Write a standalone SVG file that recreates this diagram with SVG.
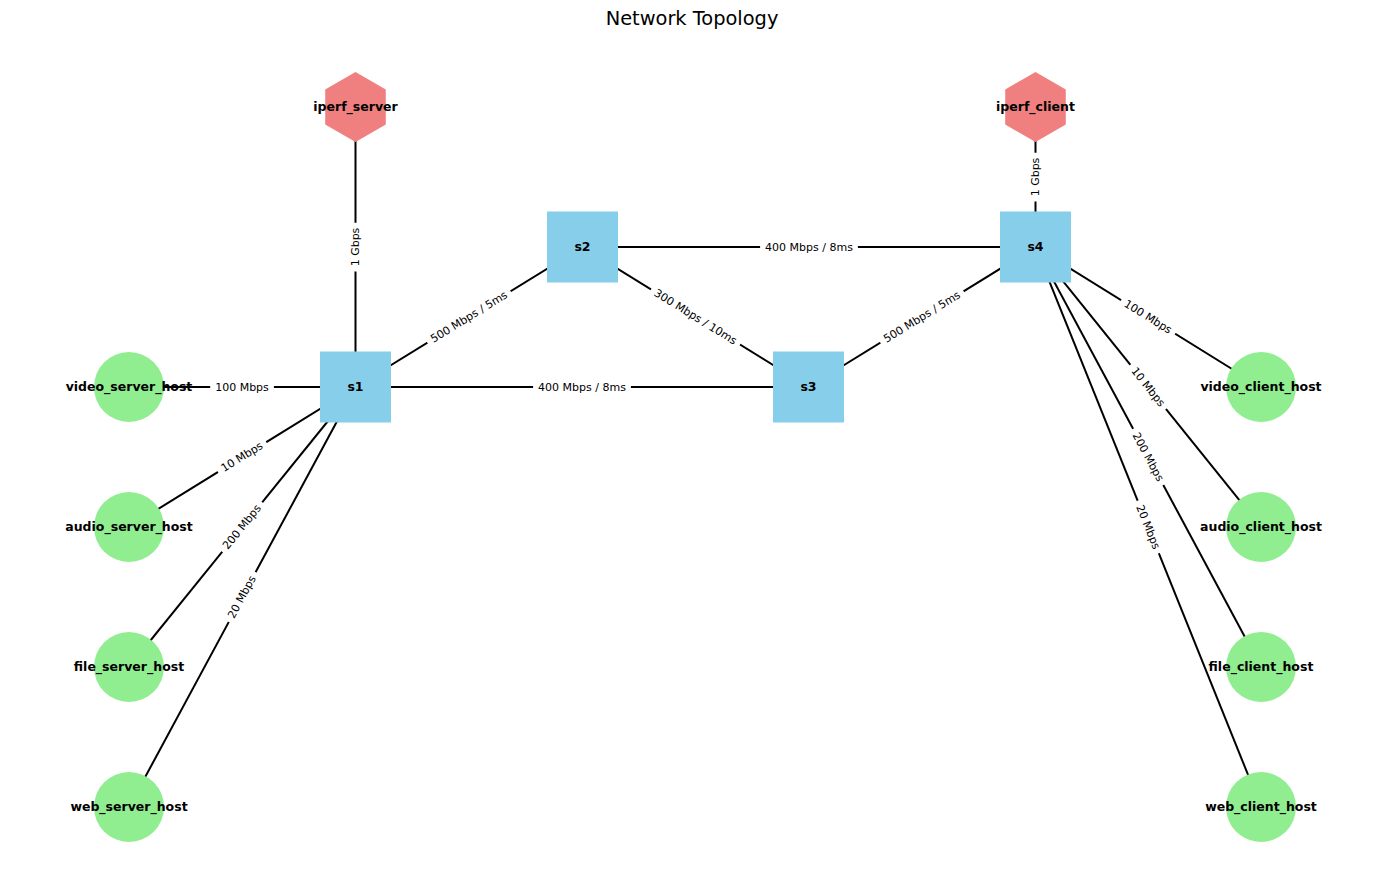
<svg xmlns="http://www.w3.org/2000/svg" width="1389" height="890" viewBox="0 0 1389 890">
<style>
.edge{stroke:#000;stroke-width:2;fill:none}
.lblbox{fill:#fff;stroke:none}
.lbl{font-family:"DejaVu Sans","Liberation Sans",sans-serif;font-size:11px;fill:#000;text-anchor:middle;dominant-baseline:central}
.nlbl{font-family:"DejaVu Sans","Liberation Sans",sans-serif;font-size:12.5px;font-weight:bold;fill:#000;text-anchor:middle;dominant-baseline:central}
.sw{fill:#87CEEB}
.host{fill:#90EE90}
.iperf{fill:#F08080}
.title{font-family:"DejaVu Sans","Liberation Sans",sans-serif;font-size:19.4px;fill:#000;text-anchor:middle}
</style>
<rect width="1389" height="890" fill="#fff"/>
<text class="title" x="692" y="25">Network Topology</text>
<g id="connectors">
<line class="edge" x1="355.5" y1="107" x2="355.5" y2="387"/>
<line class="edge" x1="1035.5" y1="107" x2="1035.5" y2="247"/>
<line class="edge" x1="355.5" y1="387" x2="582.5" y2="247"/>
<line class="edge" x1="355.5" y1="387" x2="808.5" y2="387"/>
<line class="edge" x1="582.5" y1="247" x2="1035.5" y2="247"/>
<line class="edge" x1="582.5" y1="247" x2="808.5" y2="387"/>
<line class="edge" x1="808.5" y1="387" x2="1035.5" y2="247"/>
<line class="edge" x1="355.5" y1="387" x2="129" y2="387"/>
<line class="edge" x1="355.5" y1="387" x2="129" y2="527"/>
<line class="edge" x1="355.5" y1="387" x2="129" y2="667"/>
<line class="edge" x1="355.5" y1="387" x2="129" y2="807"/>
<line class="edge" x1="1035.5" y1="247" x2="1261" y2="387"/>
<line class="edge" x1="1035.5" y1="247" x2="1261" y2="527"/>
<line class="edge" x1="1035.5" y1="247" x2="1261" y2="667"/>
<line class="edge" x1="1035.5" y1="247" x2="1261" y2="807"/>
<g transform="translate(355.5,247) rotate(-90)"><rect class="lblbox" x="-24.4" y="-9" width="48.7" height="18" rx="4"/><text class="lbl">1 Gbps</text></g>
<g transform="translate(1035.5,177) rotate(-90)"><rect class="lblbox" x="-24.4" y="-9" width="48.7" height="18" rx="4"/><text class="lbl">1 Gbps</text></g>
<g transform="translate(469,317) rotate(-31.66)"><rect class="lblbox" x="-48.9" y="-9" width="97.8" height="18" rx="4"/><text class="lbl">500 Mbps / 5ms</text></g>
<g transform="translate(582,387)"><rect class="lblbox" x="-48.9" y="-9" width="97.8" height="18" rx="4"/><text class="lbl">400 Mbps / 8ms</text></g>
<g transform="translate(809,247)"><rect class="lblbox" x="-48.9" y="-9" width="97.8" height="18" rx="4"/><text class="lbl">400 Mbps / 8ms</text></g>
<g transform="translate(695.5,317) rotate(31.77)"><rect class="lblbox" x="-52.4" y="-9" width="104.8" height="18" rx="4"/><text class="lbl">300 Mbps / 10ms</text></g>
<g transform="translate(922,317) rotate(-31.66)"><rect class="lblbox" x="-48.9" y="-9" width="97.8" height="18" rx="4"/><text class="lbl">500 Mbps / 5ms</text></g>
<g transform="translate(242,387)"><rect class="lblbox" x="-31.8" y="-9" width="63.7" height="18" rx="4"/><text class="lbl">100 Mbps</text></g>
<g transform="translate(242,457) rotate(-31.72)"><rect class="lblbox" x="-28.3" y="-9" width="56.7" height="18" rx="4"/><text class="lbl">10 Mbps</text></g>
<g transform="translate(242,527) rotate(-51.02)"><rect class="lblbox" x="-31.8" y="-9" width="63.7" height="18" rx="4"/><text class="lbl">200 Mbps</text></g>
<g transform="translate(242,597) rotate(-61.66)"><rect class="lblbox" x="-28.3" y="-9" width="56.7" height="18" rx="4"/><text class="lbl">20 Mbps</text></g>
<g transform="translate(1148,317) rotate(31.83)"><rect class="lblbox" x="-31.8" y="-9" width="63.7" height="18" rx="4"/><text class="lbl">100 Mbps</text></g>
<g transform="translate(1148,387) rotate(51.15)"><rect class="lblbox" x="-28.3" y="-9" width="56.7" height="18" rx="4"/><text class="lbl">10 Mbps</text></g>
<g transform="translate(1148,457) rotate(61.77)"><rect class="lblbox" x="-31.8" y="-9" width="63.7" height="18" rx="4"/><text class="lbl">200 Mbps</text></g>
<g transform="translate(1148,527) rotate(68.06)"><rect class="lblbox" x="-28.3" y="-9" width="56.7" height="18" rx="4"/><text class="lbl">20 Mbps</text></g>
</g>
<g id="iperf_server"><polygon class="iperf" points="355.5,72 385.8,89.5 385.8,124.5 355.5,142 325.2,124.5 325.2,89.5"/><text class="nlbl" x="355.5" y="106">iperf_server</text></g>
<g id="iperf_client"><polygon class="iperf" points="1035.5,72 1065.8,89.5 1065.8,124.5 1035.5,142 1005.2,124.5 1005.2,89.5"/><text class="nlbl" x="1035.5" y="106">iperf_client</text></g>
<g id="s1"><rect class="sw" x="320" y="351.5" width="71" height="71"/><text class="nlbl" x="355.5" y="386">s1</text></g>
<g id="s2"><rect class="sw" x="547" y="211.5" width="71" height="71"/><text class="nlbl" x="582.5" y="246">s2</text></g>
<g id="s3"><rect class="sw" x="773" y="351.5" width="71" height="71"/><text class="nlbl" x="808.5" y="386">s3</text></g>
<g id="s4"><rect class="sw" x="1000" y="211.5" width="71" height="71"/><text class="nlbl" x="1035.5" y="246">s4</text></g>
<g id="video_server_host"><circle class="host" cx="129" cy="387" r="35"/><text class="nlbl" x="129" y="386">video_server_host</text></g>
<g id="audio_server_host"><circle class="host" cx="129" cy="527" r="35"/><text class="nlbl" x="129" y="526">audio_server_host</text></g>
<g id="file_server_host"><circle class="host" cx="129" cy="667" r="35"/><text class="nlbl" x="129" y="666">file_server_host</text></g>
<g id="web_server_host"><circle class="host" cx="129" cy="807" r="35"/><text class="nlbl" x="129" y="806">web_server_host</text></g>
<g id="video_client_host"><circle class="host" cx="1261" cy="387" r="35"/><text class="nlbl" x="1261" y="386">video_client_host</text></g>
<g id="audio_client_host"><circle class="host" cx="1261" cy="527" r="35"/><text class="nlbl" x="1261" y="526">audio_client_host</text></g>
<g id="file_client_host"><circle class="host" cx="1261" cy="667" r="35"/><text class="nlbl" x="1261" y="666">file_client_host</text></g>
<g id="web_client_host"><circle class="host" cx="1261" cy="807" r="35"/><text class="nlbl" x="1261" y="806">web_client_host</text></g>
</svg>
